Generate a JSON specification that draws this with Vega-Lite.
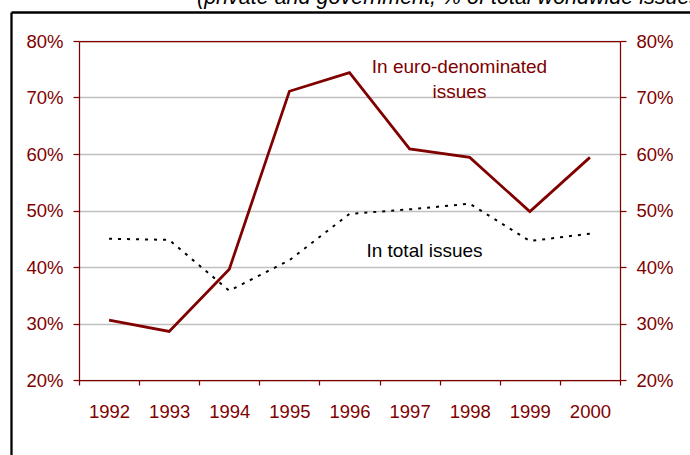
{
  "$schema": "https://vega.github.io/schema/vega-lite/v6.json",
  "width": 541,
  "height": 339,
  "autosize": {"type": "none"},
  "padding": {"left": 79, "top": 41, "right": 70, "bottom": 75},
  "title": {
    "text": "(private and government, % of total worldwide issues)",
    "anchor": "start",
    "frame": "group",
    "dx": 118,
    "dy": 22,
    "offset": 9,
    "limit": 2000,
    "baseline": "alphabetic",
    "font": "Liberation Sans",
    "fontSize": 21.5,
    "fontStyle": "italic",
    "fontWeight": "normal",
    "color": "#000000"
  },
  "datasets": {
    "issues": [
      {"year": "1992", "euro": 30.6, "total": 45.0},
      {"year": "1993", "euro": 28.6, "total": 44.8},
      {"year": "1994", "euro": 39.6, "total": 35.8},
      {"year": "1995", "euro": 71.1, "total": 41.2},
      {"year": "1996", "euro": 74.4, "total": 49.4},
      {"year": "1997", "euro": 60.9, "total": 50.2},
      {"year": "1998", "euro": 59.4, "total": 51.2},
      {"year": "1999", "euro": 49.8, "total": 44.6},
      {"year": "2000", "euro": 59.4, "total": 45.9}
    ],
    "euroNote": [
      {"year": "1998", "pct": 74.4, "label": "In euro-denominated"},
      {"year": "1998", "pct": 69.9, "label": "issues"}
    ],
    "totalNote": [
      {"year": "1997", "pct": 41.7, "label": "In total issues"}
    ]
  },
  "data": {"name": "issues"},
  "layer": [
    {
      "layer": [
        {
          "mark": {"type": "line", "color": "#800000", "strokeWidth": 2.75, "strokeJoin": "miter"},
          "encoding": {
            "x": {
              "field": "year",
              "type": "ordinal",
              "bandPosition": 0.5,
              "scale": {"type": "band", "paddingInner": 0, "paddingOuter": 0, "domain": ["1992", "1993", "1994", "1995", "1996", "1997", "1998", "1999", "2000"]},
              "axis": {
                "orient": "bottom",
                "title": null,
                "tickBand": "extent",
                "labelAngle": 0,
                "labelPadding": 17,
                "tickSize": 5,
                "grid": false
              }
            },
            "y": {
              "field": "euro",
              "type": "quantitative",
              "scale": {"domain": [20, 80], "nice": false, "zero": false},
              "axis": {
                "orient": "left",
                "title": null,
                "values": [20, 30, 40, 50, 60, 70, 80],
                "labelExpr": "datum.value + '%'",
                "tickSize": 6,
                "labelPadding": 10,
                "grid": true,
                "gridColor": "#c0c0c0",
                "gridWidth": 1.3
              }
            }
          }
        },
        {
          "mark": {"type": "line", "color": "#000000", "strokeWidth": 2, "strokeDash": [3, 6], "strokeCap": "butt"},
          "encoding": {
            "x": {
              "field": "year",
              "type": "ordinal",
              "bandPosition": 0.5,
              "scale": {"type": "band", "paddingInner": 0, "paddingOuter": 0, "domain": ["1992", "1993", "1994", "1995", "1996", "1997", "1998", "1999", "2000"]},
              "axis": {
                "orient": "top",
                "title": null,
                "ticks": false,
                "labels": false,
                "grid": false
              }
            },
            "y": {
              "field": "total",
              "type": "quantitative",
              "scale": {"domain": [20, 80], "nice": false, "zero": false},
              "axis": {
                "orient": "right",
                "title": null,
                "values": [20, 30, 40, 50, 60, 70, 80],
                "labelExpr": "datum.value + '%'",
                "tickSize": 6,
                "labelPadding": 10,
                "grid": false
              }
            }
          }
        },
        {
          "data": {"name": "euroNote"},
          "mark": {"type": "text", "align": "center", "baseline": "alphabetic", "font": "Liberation Sans", "fontSize": 19, "color": "#800000"},
          "encoding": {
            "x": {
              "field": "year",
              "type": "ordinal",
              "bandPosition": 0.33,
              "scale": {"type": "band", "paddingInner": 0, "paddingOuter": 0, "domain": ["1992", "1993", "1994", "1995", "1996", "1997", "1998", "1999", "2000"]},
              "axis": null
            },
            "y": {
              "field": "pct",
              "type": "quantitative",
              "scale": {"domain": [20, 80], "nice": false, "zero": false},
              "axis": null
            },
            "text": {"field": "label"}
          }
        },
        {
          "data": {"name": "totalNote"},
          "mark": {"type": "text", "align": "center", "baseline": "alphabetic", "font": "Liberation Sans", "fontSize": 19, "color": "#000000"},
          "encoding": {
            "x": {
              "field": "year",
              "type": "ordinal",
              "bandPosition": 0.747,
              "scale": {"type": "band", "paddingInner": 0, "paddingOuter": 0, "domain": ["1992", "1993", "1994", "1995", "1996", "1997", "1998", "1999", "2000"]},
              "axis": null
            },
            "y": {
              "field": "pct",
              "type": "quantitative",
              "scale": {"domain": [20, 80], "nice": false, "zero": false},
              "axis": null
            },
            "text": {"field": "label"}
          }
        }
      ],
      "resolve": {"axis": {"x": "independent", "y": "independent"}}
    },
    {
      "mark": {"type": "point", "opacity": 0, "size": 0},
      "encoding": {
        "x": {
          "field": "euro",
          "type": "quantitative",
          "scale": {"range": [-68, 625], "zero": false},
          "axis": {
            "orient": "top",
            "offset": 29,
            "title": null,
            "ticks": false,
            "labels": false,
            "grid": false,
            "domainColor": "#000000",
            "domainWidth": 2.3
          }
        },
        "y": {
          "field": "total",
          "type": "quantitative",
          "scale": {"range": [430, -29], "zero": false},
          "axis": {
            "orient": "left",
            "offset": 68,
            "title": null,
            "ticks": false,
            "labels": false,
            "grid": false,
            "domainColor": "#000000",
            "domainWidth": 2.3
          }
        }
      }
    }
  ],
  "resolve": {
    "scale": {"x": "independent", "y": "independent"},
    "axis": {"x": "independent", "y": "independent"}
  },
  "config": {
    "view": {"stroke": null},
    "font": "Liberation Sans",
    "axis": {
      "domainColor": "#800000",
      "domainWidth": 1.25,
      "tickColor": "#800000",
      "tickWidth": 1.25,
      "labelColor": "#800000",
      "labelFont": "Liberation Sans",
      "labelFontSize": 18.5
    }
  }
}
